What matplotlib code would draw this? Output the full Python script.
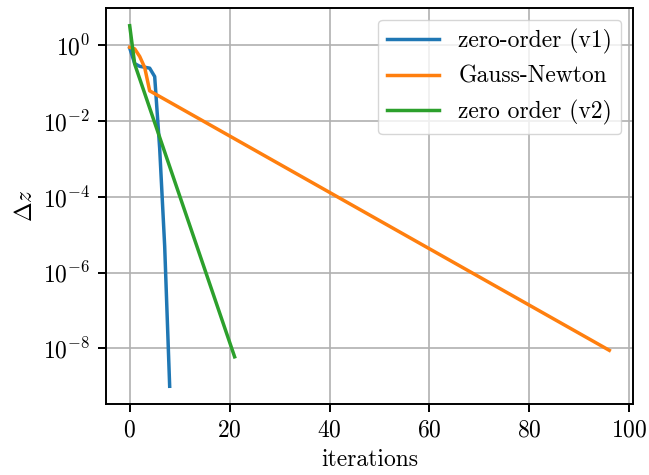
import matplotlib
matplotlib.use("Agg")
import matplotlib.pyplot as plt
from matplotlib.ticker import NullLocator

# Convergence of the step size per iteration for three solvers
zo1_iters = [0, 1, 2, 3, 4, 5, 6, 7, 8]
zo1_dz = [0.85, 0.33, 0.28, 0.265, 0.25, 0.15, 1.9e-3, 5e-6, 1e-9]

gn_iters = [0, 1, 2, 3, 4, 96]
gn_dz = [0.89, 0.81, 0.51, 0.26, 0.063, 8.9e-9]

zo2_iters = [0, 1, 21]
zo2_dz = [3.3, 0.32, 6.0e-9]

labels = ["zero-order (v1)", "Gauss-Newton", "zero order (v2)"]

plt.rcParams.update({
    "font.family": "serif",
    "font.serif": ["cmr10"],
    "mathtext.fontset": "cm",
    "axes.formatter.use_mathtext": True,
    "font.size": 17,
    "axes.unicode_minus": True,
})

fig = plt.figure(figsize=(6.49, 4.75), dpi=100)
ax = fig.add_axes([0.1629, 0.1488, 0.8129, 0.8350])

ax.plot(zo1_iters, zo1_dz, color="#1f77b4", lw=2.5, label=labels[0])
ax.plot(gn_iters, gn_dz, color="#ff7f0e", lw=2.5, label=labels[1])
ax.plot(zo2_iters, zo2_dz, color="#2ca02c", lw=2.5, label=labels[2])

ax.set_yscale("log")
ax.set_yticks([1e0, 1e-2, 1e-4, 1e-6, 1e-8])
ax.yaxis.set_minor_locator(NullLocator())
ax.set_xticks([0, 20, 40, 60, 80, 100])

ax.grid(True, which="major", color="#b0b0b0", lw=1.2)
ax.set_xlabel("iterations", labelpad=5)
ax.set_ylabel(r"$\Delta z$", labelpad=4)
for s in ax.spines.values():
    s.set_linewidth(1.4)
ax.tick_params(width=1.4, length=6, pad=5)

ax.legend(loc="upper right", fontsize=17, handlelength=2.2)

fig.savefig("out.png", dpi=100)
